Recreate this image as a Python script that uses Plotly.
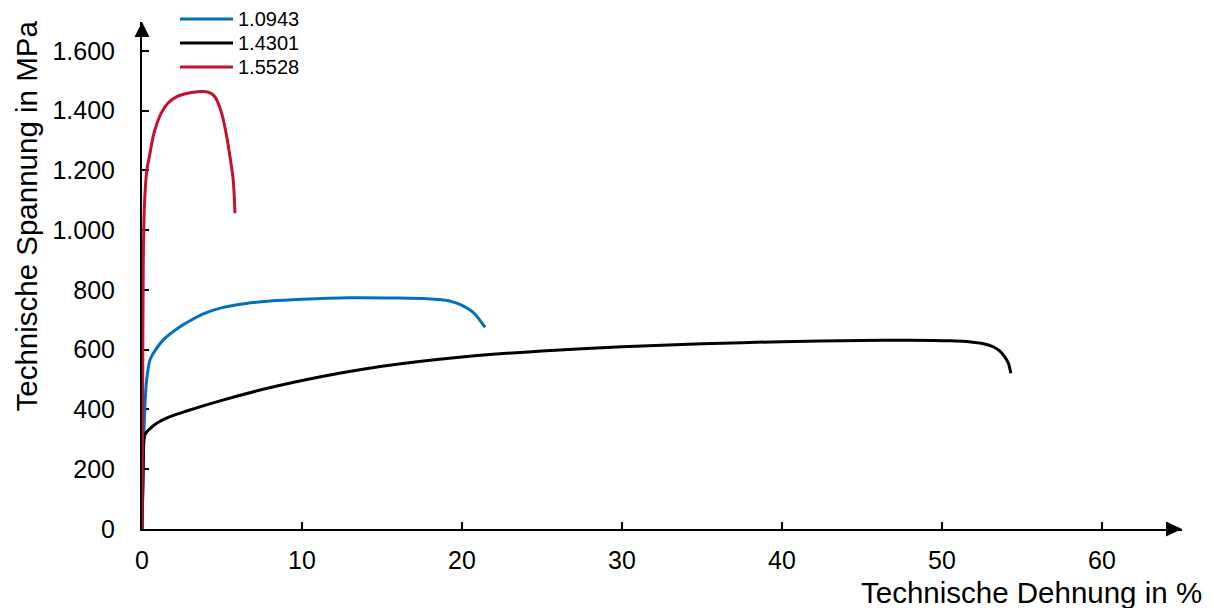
import plotly.graph_objects as go

# Data
x_10943 = [0, 0.08, 0.125, 0.2, 0.29, 0.5, 0.71, 1.33, 2.375, 3.2, 3.83, 5.0, 6.5, 8.0, 10, 13, 16.1, 17.8, 18.6, 19.3, 19.9, 20.7, 21.44]
y_10943 = [0, 250, 331, 430, 499, 566, 588, 633, 677, 703, 720, 741, 755, 763, 769, 774, 773, 771, 768, 762, 751, 725, 675]

x_14301 = [0, 0.06, 0.125, 0.2, 0.4, 0.92, 1.75, 2.79, 4.875, 7.375, 10, 12.5, 15, 20, 25, 30, 35, 40, 45, 48, 50.5, 51.8, 52.6, 53.2, 53.6, 53.9, 54.15, 54.3]
y_14301 = [0, 150, 300, 318, 331, 354, 376, 395, 429, 465, 497, 523, 545, 576, 596, 610, 620, 627, 631, 632, 630, 626, 620, 610, 596, 578, 555, 521]

x_15528 = [0, 0.04, 0.08, 0.12, 0.19, 0.3, 0.5, 0.7, 0.92, 1.2, 1.6, 2.17, 2.7, 3.2, 3.8, 4.15, 4.4, 4.6, 4.8, 4.98, 5.2, 5.4, 5.7, 5.81]
y_15528 = [0, 450, 900, 1030, 1125, 1200, 1258, 1315, 1355, 1392, 1424, 1447, 1457, 1462, 1464, 1462, 1455, 1443, 1420, 1391, 1340, 1280, 1168, 1057]

series_names = ["1.0943", "1.4301", "1.5528"]
series_colors = ["#0070C0", "#000000", "#C5102E"]

x_ticks = [0, 10, 20, 30, 40, 50, 60]
x_ticktext = ["0", "10", "20", "30", "40", "50", "60"]
y_ticks = [0, 200, 400, 600, 800, 1000, 1200, 1400, 1600]
y_ticktext = ["0", "200", "400", "600", "800", "1.000", "1.200", "1.400", "1.600"]

FONT = "Liberation Sans, Arial, sans-serif"

fig = go.Figure()
for xs, ys, name, col in zip([x_10943, x_14301, x_15528], [y_10943, y_14301, y_15528],
                             series_names, series_colors):
    fig.add_trace(go.Scatter(x=xs, y=ys, mode="lines", name=name, showlegend=False,
                             line=dict(color=col, width=3, shape="spline", smoothing=0.8)))

fig.update_layout(
    width=1214, height=608,
    margin=dict(l=142, r=32, t=22, b=79, autoexpand=False),
    paper_bgcolor="white", plot_bgcolor="white",
    font=dict(family=FONT, color="black"),
    showlegend=False,
    xaxis=dict(range=[0, 65], showgrid=False, zeroline=False, showline=True,
               linecolor="black", linewidth=2, ticks="inside", ticklen=7,
               tickwidth=2, tickcolor="black", tickvals=x_ticks, ticktext=x_ticktext,
               tickfont=dict(size=25, family=FONT), ticklabelstandoff=8,
               layer="below traces", fixedrange=True),
    yaxis=dict(range=[0, 1697], showgrid=False, zeroline=False, showline=True,
               linecolor="black", linewidth=2, ticks="inside", ticklen=7,
               tickwidth=2, tickcolor="black", tickvals=y_ticks, ticktext=y_ticktext,
               tickfont=dict(size=25, family=FONT), ticklabelstandoff=20,
               layer="below traces", fixedrange=True),
)

# Legend (drawn manually to match the reference's long line samples)
legend_y = [1.0059, 0.9586, 0.9112]
for name, col, ly in zip(series_names, series_colors, legend_y):
    fig.add_shape(type="line", xref="paper", yref="paper", x0=0.0365, x1=0.0875, y0=ly, y1=ly,
                  line=dict(color=col, width=3))
    fig.add_annotation(text=name, xref="paper", yref="paper", x=0.0905, y=ly,
                       xanchor="left", yanchor="middle", showarrow=False,
                       font=dict(size=20, family=FONT))

# Axis arrowheads
fig.add_shape(type="path", xref="paper", yref="paper", xsizemode="pixel", ysizemode="pixel",
              xanchor=1, yanchor=0, path="M -16 -7.5 L 0 0 L -16 7.5 Z",
              fillcolor="black", line=dict(color="black", width=0))
fig.add_shape(type="path", xref="paper", yref="paper", xsizemode="pixel", ysizemode="pixel",
              xanchor=0, yanchor=1, path="M -7.5 -15 L 0 0 L 7.5 -15 Z",
              fillcolor="black", line=dict(color="black", width=0))

# Axis titles
fig.add_annotation(text="Technische Dehnung in %", xref="paper", yref="paper",
                   x=1, y=0, xanchor="right", yanchor="middle", xshift=22, yshift=-63,
                   showarrow=False, font=dict(size=29.5, family=FONT))
fig.add_annotation(text="Technische Spannung in MPa", xref="paper", yref="paper",
                   x=0, y=0.5, xanchor="center", yanchor="middle", xshift=-116, yshift=59,
                   textangle=-90, showarrow=False, font=dict(size=29.5, family=FONT))

fig.write_html("out.html")
